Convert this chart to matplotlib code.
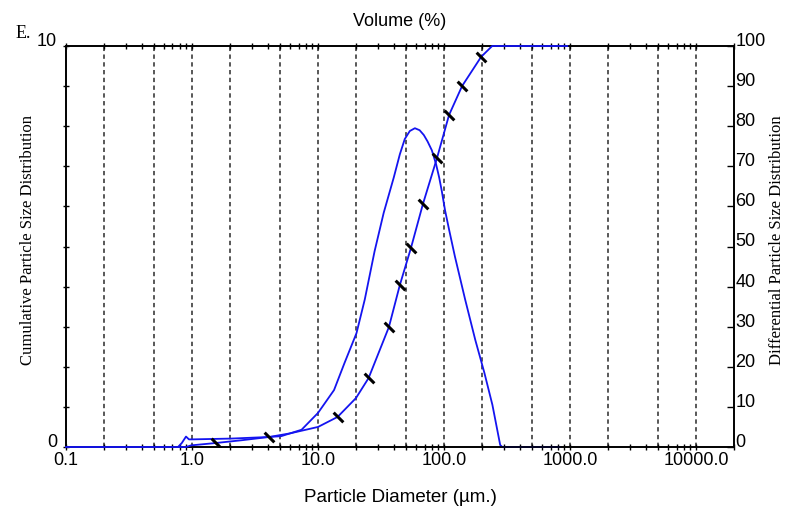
import matplotlib
matplotlib.use("Agg")
import matplotlib.pyplot as plt
from matplotlib.path import Path
from matplotlib.ticker import FixedLocator, FixedFormatter, LogLocator, NullFormatter

plt.rcParams['font.family'] = ['Liberation Sans', 'DejaVu Sans']

# ---- data ----
diff_x = [0.1, 0.774, 0.83, 0.896, 0.946, 1.0, 2.04, 4.1, 5.1, 7.4, 10.0, 13.4, 16.2,
          20.2, 23.5, 28.1, 33.2, 39.9, 44.6, 48.8, 53.5, 58.7, 64.0, 69.1, 74.0,
          80.0, 86.5, 91.5, 96.0, 101.9, 110.0, 122.0, 147.0, 177.0, 209.0, 242.0,
          279.0, 290.0, 830.0]
diff_y = [0.0, 0.0, 0.1, 0.26, 0.19, 0.19, 0.21, 0.25, 0.27, 0.43, 0.85, 1.42, 2.09,
          2.84, 3.68, 4.88, 5.84, 6.72, 7.3, 7.68, 7.88, 7.95, 7.9, 7.78, 7.62,
          7.4, 7.05, 6.72, 6.38, 5.9, 5.4, 4.75, 3.68, 2.67, 1.85, 1.05,
          0.05, 0.0, 0.0]

cum_x = [0.1, 0.9, 0.98, 1.55, 2.5, 4.1, 6.0, 10.0, 14.3, 20.0, 25.2, 36.5, 44.6,
         54.6, 68.0, 88.0, 109.6, 139.0, 197.0, 241.0, 950.0]
cum_y = [0.0, 0.0, 0.4, 1.0, 1.7, 2.5, 3.4, 5.0, 7.5, 12.2, 17.2, 29.9, 40.4,
         49.6, 60.6, 72.1, 82.8, 90.0, 97.3, 100.0, 100.0]

mark_x = [1.55, 4.1, 14.3, 25.2, 36.5, 44.6, 54.6, 68.0, 88.0, 109.6, 139.0, 197.0]
mark_y = [1.0, 2.5, 7.5, 17.2, 29.9, 40.4, 49.6, 60.6, 72.1, 82.8, 90.0, 97.3]

x_ticks = [0.1, 1.0, 10.0, 100.0, 1000.0, 10000.0]
x_tick_labels = ["0.1", "1.0", "10.0", "100.0", "1000.0", "10000.0"]
left_ticks = list(range(0, 11))
left_labels = ["0"] + [""] * 9 + ["10"]
right_ticks = list(range(0, 101, 10))
right_labels = [str(v) for v in right_ticks]

# ---- figure ----
W, H = 790, 512
fig = plt.figure(figsize=(W / 100, H / 100), dpi=100)
ax = fig.add_axes([66 / W, 1 - 447 / H, (734 - 66) / W, (447 - 46) / H])
ax.set_xscale('log')
ax.set_xlim(0.1, 20000)
ax.set_ylim(0, 10)
ax2 = ax.twinx()
ax2.set_ylim(0, 100)
ax2.set_xlim(0.1, 20000)

# vertical dashed grid at 1, 2, 5 per decade
for dec in [0.1, 1, 10, 100, 1000, 10000]:
    for m in (1, 2, 5):
        g = dec * m
        if 0.1 < g < 20000:
            ax.axvline(g, color='#4a4a4a', lw=1.3, ls=(0, (2.4, 1.9)), zorder=0.5)

line_color = '#1414f0'
ax.plot(diff_x, diff_y, color=line_color, lw=1.3, zorder=3, clip_on=False)
ax2.plot(cum_x, cum_y, color=line_color, lw=1.3, zorder=3, clip_on=False)
dash = Path([(-1, 1), (1, -1)], [Path.MOVETO, Path.LINETO])
ax2.plot(mark_x, mark_y, ls='none', marker=dash, ms=7, mec='black', mew=2.2, zorder=4)

for a in (ax, ax2):
    for s in a.spines.values():
        s.set_linewidth(1.2)
        s.set_color('black')

# x ticks
ax.xaxis.set_major_locator(FixedLocator(x_ticks))
ax.xaxis.set_major_formatter(FixedFormatter(x_tick_labels))
ax.xaxis.set_minor_locator(LogLocator(base=10, subs=range(2, 10), numticks=100))
ax.xaxis.set_minor_formatter(NullFormatter())
ax.tick_params(axis='x', which='both', direction='inout', top=True, bottom=True,
               length=4.5, width=1, labelsize=13, pad=1, colors='black')
ax.tick_params(axis='x', which='minor', length=4)

# left y ticks
ax.set_yticks(left_ticks, labels=left_labels, va='baseline')
ax.tick_params(axis='y', which='both', direction='inout', length=5, width=1,
               labelsize=13, pad=4)
ax.yaxis.set_minor_locator(FixedLocator([]))

# right y ticks
ax2.set_yticks(right_ticks, labels=right_labels, va='baseline')
ax2.tick_params(axis='y', direction='in', length=5, width=1, labelsize=13, pad=1)

# texts
fig.text(400 / W, 1 - 21 / H, 'Volume (%)', ha='center', va='center', fontsize=13)
fig.text(400 / W, 1 - 497 / H, 'Particle Diameter (µm.)', ha='center', va='center',
         fontsize=13.5)
fig.text(28 / W, 1 - 240 / H, 'Cumulative Particle Size Distribution', rotation=90,
         ha='center', va='center', fontsize=12, family=['Liberation Serif', 'DejaVu Serif'])
fig.text(777 / W, 1 - 240 / H, 'Differential Particle Size Distribution', rotation=90,
         ha='center', va='center', fontsize=12, family=['Liberation Serif', 'DejaVu Serif'])
fig.text(23 / W, 1 - 34 / H, 'E.', ha='center', va='center', fontsize=13,
         family=['Liberation Serif', 'DejaVu Serif'])

fig.savefig('out.png', dpi=100)
